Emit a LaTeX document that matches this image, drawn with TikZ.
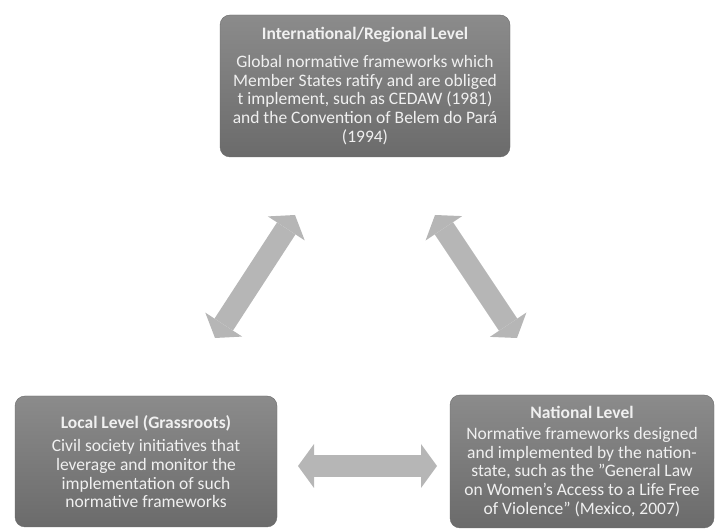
\documentclass[tikz,border=0pt]{standalone}
\usepackage{fontspec}
\setmainfont{Carlito}
\usetikzlibrary{arrows.meta,positioning}
\definecolor{boxtop}{HTML}{8B8B8B}
\definecolor{boxbottom}{HTML}{6B6B6B}
\definecolor{arrowgray}{HTML}{B6B6B6}
\tikzset{
    levelbox/.style={rounded corners=10pt, top color=boxtop, bottom color=boxbottom,
        draw=boxbottom, text=white!94!black, align=center, inner sep=0pt,
        font=\fontsize{17.5}{18.7}\selectfont},
    fatarrow/.style={draw=arrowgray, line width=22pt, {Triangle[length=16pt, width=44pt, line width=0pt]}-{Triangle[length=16pt, width=44pt, line width=0pt]}}
}
\begin{document}
\begin{tikzpicture}[x=1pt, y=1pt]
    \useasboundingbox (0, 0) rectangle (721, 530);
    \node[levelbox, minimum width=290pt, minimum height=142pt] (intl) at (365, 444)
        {\textbf{International/Regional Level}\\[9pt]
        Global normative frameworks which\\
        Member States ratify and are obliged\\
        t implement, such as CEDAW (1981)\\
        and the Convention of Belem do Pará\\
        (1994)};
    \node[levelbox, minimum width=262pt, minimum height=131pt] (local) at (146, 68.5)
        {\textbf{Local Level (Grassroots)}\\[5pt]
        Civil society initiatives that\\
        leverage and monitor the\\
        implementation of such\\
        normative frameworks};
    \node[levelbox, minimum width=264pt, minimum height=133pt] (natl) at (582, 68.5)
        {\textbf{National Level}\\[2pt]
        Normative frameworks designed\\
        and implemented by the nation-\\
        state, such as the "General Law\\
        on Women's Access to a Life Free\\
        of Violence" (Mexico, 2007)};
    \coordinate (localup) at (215, 192);
    \coordinate (intlleft) at (295, 315);
    \coordinate (intlright) at (435, 315);
    \coordinate (natlup) at (517, 192);
    \coordinate (localright) at (298, 64);
    \coordinate (natlleft) at (437, 64);
    \draw[fatarrow] (localup) -- (intlleft);
    \draw[fatarrow] (intlright) -- (natlup);
    \draw[fatarrow] (localright) -- (natlleft);
\end{tikzpicture}
\end{document}
